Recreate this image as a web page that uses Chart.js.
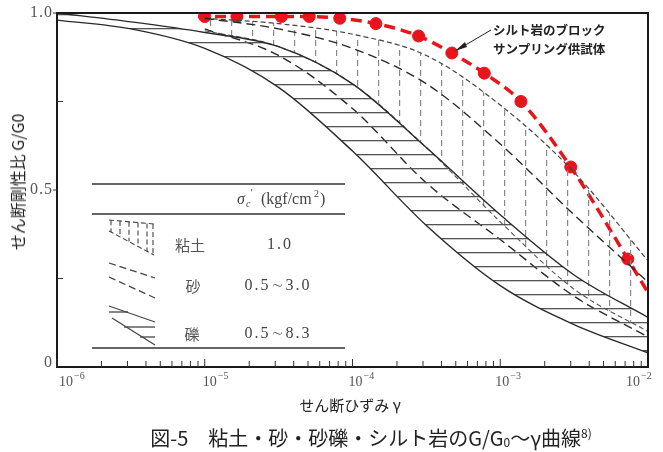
<!DOCTYPE html>
<html lang="ja">
<head>
<meta charset="UTF-8">
<title>G/G0 - γ curves</title>
<script src="https://cdn.jsdelivr.net/npm/chart.js"></script>
<style>
  body { margin: 0; background: #fff; font-family: "Noto Sans CJK JP", sans-serif; color: #222; }
  .wrap { position: relative; width: 663px; height: 452px; }
  #chart { position: absolute; left: 0; top: 0; }
  .ytitle { position: absolute; left: 17px; top: 182px; transform: translate(-50%, -50%) rotate(-90deg);
            white-space: nowrap; font-size: 16px; }
  .xtitle { position: absolute; left: 350px; top: 404px; transform: translate(-50%, -50%);
            white-space: nowrap; font-size: 15px; }
  .caption { position: absolute; left: 371px; top: 437px; transform: translate(-50%, -50%);
             white-space: nowrap; font-size: 20px; }
  .caption sub { font-size: 12px; vertical-align: -1px; }
  .caption sup { font-size: 12px; vertical-align: 8px; }
  .note { position: absolute; left: 493px; top: 20px; font-size: 12.5px; font-weight: bold; line-height: 19px; white-space: nowrap; }
</style>
</head>
<body>
<div class="wrap">
  <canvas id="chart" width="663" height="452"></canvas>
  <div class="ytitle">せん断剛性比 G/G0</div>
  <div class="xtitle">せん断ひずみ γ</div>
  <div class="note">シルト岩のブロック<br>サンプリング供試体</div>
  <div class="caption">図-5　粘土・砂・砂礫・シルト岩のG/G<sub>0</sub>～γ曲線<sup>8)</sup></div>
</div>
<script>
// strain values (x) at half-decades
const strainFull = [1e-6, 3.16e-6, 1e-5, 3.16e-5, 1e-4, 3.16e-4, 1e-3, 3.16e-3, 1e-2];
const strainFrom1e5 = [1e-5, 3.16e-5, 1e-4, 3.16e-4, 1e-3, 3.16e-3, 1e-2];

// gravel band (solid lines, horizontal hatch)
const gravelLower = [0.98, 0.955, 0.90, 0.79, 0.61, 0.40, 0.23, 0.12, 0.04];
const gravelUpper = [1.0, 0.975, 0.945, 0.905, 0.80, 0.62, 0.43, 0.26, 0.14];
// sand band (long dashes)
const sandLower = [0.955, 0.88, 0.73, 0.52, 0.36, 0.20, 0.085];
const sandUpper = [0.985, 0.955, 0.90, 0.80, 0.63, 0.43, 0.24];
// clay band (short dashes, vertical hatch)
const clayLower = [0.95, 0.905, 0.80, 0.62, 0.41, 0.22, 0.10];
const clayUpper = [0.985, 0.97, 0.94, 0.88, 0.74, 0.55, 0.30];

// siltstone block samples (red)
const rockStrain = [1e-5, 1.65e-5, 3.3e-5, 5.1e-5, 8.2e-5, 1.44e-4, 2.8e-4, 4.7e-4, 7.8e-4, 1.38e-3, 3.0e-3, 7.3e-3];
const rockRatio = [0.99, 0.99, 0.99, 0.99, 0.985, 0.97, 0.935, 0.887, 0.83, 0.75, 0.565, 0.305];
// where the red dashed line starts and ends beyond the samples
const rockLineStrain = [9e-6].concat(rockStrain, [1e-2]);
const rockLineRatio = [0.99].concat(rockRatio, [0.21]);

const xTickExps = ['−6', '−5', '−4', '−3', '−2'];
const yTickValues = [0, 0.5, 1.0];
const yTickLabels = ['0', '0.5', '1.0'];

function pts(xs, ys) { return xs.map((v, i) => ({ x: v, y: ys[i] })); }

const canvas = document.getElementById('chart');
const ctx0 = canvas.getContext('2d');

function makePattern(w, h, draw) {
    const c = document.createElement('canvas');
    c.width = w; c.height = h;
    draw(c.getContext('2d'));
    return ctx0.createPattern(c, 'repeat');
}
const horizHatch = makePattern(8, 14, g => { g.fillStyle = '#555'; g.fillRect(0, 0, 8, 1.3); });
const vertHatch = makePattern(21, 10, g => { g.fillStyle = '#888'; g.fillRect(0, 0, 1.2, 6); });

const black = '#2a2a2a';
const red = '#e8141c';

function curve(label, data, dash, extra) {
    return Object.assign({
        label: label,
        data: data,
        borderColor: black,
        borderWidth: 1.4,
        borderDash: dash,
        pointRadius: 0,
        cubicInterpolationMode: 'monotone',
        fill: false
    }, extra || {});
}

// decorations: frame, ticks, tick labels, legend table, arrow
const decor = {
    id: 'decor',
    afterDatasetsDraw(chart) {
        const { ctx, chartArea: a, scales: { x, y } } = chart;
        ctx.save();
        const seg = (x1, y1, x2, y2) => { ctx.beginPath(); ctx.moveTo(x1, y1); ctx.lineTo(x2, y2); ctx.stroke(); };

        // frame
        ctx.strokeStyle = '#1a1a1a';
        ctx.lineWidth = 2;
        ctx.strokeRect(a.left, a.top, a.width, a.height);

        // x ticks (inward)
        ctx.lineWidth = 1;
        ctx.strokeStyle = '#333';
        for (let e = -6; e <= -3; e++) {
            for (let m = 1; m <= 9; m++) {
                const px = x.getPixelForValue(m * Math.pow(10, e));
                seg(px, a.bottom, px, a.bottom - (m === 1 ? 8 : 6));
            }
        }
        // y ticks
        [0.25, 0.75].forEach(v => { const py = y.getPixelForValue(v); seg(a.left, py, a.left + 6, py); });
        [0.5, 1.0].forEach(v => { const py = y.getPixelForValue(v); seg(a.left - 4, py, a.left, py); });

        // tick labels
        ctx.fillStyle = '#555';
        ctx.font = '16px "Liberation Serif", serif';
        ctx.letterSpacing = '1px';
        ctx.textAlign = 'right';
        ctx.textBaseline = 'middle';
        yTickValues.forEach((v, i) => {
            const py = y.getPixelForValue(v);
            ctx.fillText(yTickLabels[i], a.left - 4, py + (v === 0 ? -4 : 0));
        });
        ctx.letterSpacing = '0px';
        ctx.textBaseline = 'alphabetic';
        ctx.textAlign = 'left';
        const labelShift = [2, -2, -4, -5, -22];
        xTickExps.forEach((ex, i) => {
            const px = x.getPixelForValue(Math.pow(10, -6 + i)) + labelShift[i];
            ctx.font = '14px "Liberation Serif", serif';
            ctx.fillText('10', px, a.bottom + 19);
            ctx.font = '10px "Liberation Serif", serif';
            ctx.fillText(ex, px + 15, a.bottom + 12);
        });

        // legend table
        ctx.strokeStyle = '#333';
        ctx.lineWidth = 1.4;
        seg(92, 184, 345, 184);
        seg(92, 214, 345, 214);
        seg(92, 348, 345, 348);

        ctx.fillStyle = '#444';
        ctx.textAlign = 'left';
        ctx.textBaseline = 'middle';
        ctx.font = 'italic 16px "Liberation Serif", serif';
        ctx.fillText('σ', 237, 200);
        ctx.font = 'italic 10px "Liberation Serif", serif';
        ctx.fillText('c', 246, 204);
        ctx.fillText('′', 250, 193);
        ctx.font = '16px "Liberation Serif", serif';
        ctx.fillText('(kgf/cm', 261, 200);
        ctx.font = '10px "Liberation Serif", serif';
        ctx.fillText('2', 314, 194);
        ctx.font = '16px "Liberation Serif", serif';
        ctx.fillText(')', 320, 200);

        ctx.textAlign = 'center';
        ctx.font = '16px "Liberation Serif", serif';
        ctx.letterSpacing = '2px';
        ctx.fillText('1.0', 280, 245);
        ctx.fillText('0.5∼3.0', 278, 286);
        ctx.fillText('0.5∼8.3', 278, 334);
        ctx.letterSpacing = '0px';
        ctx.font = '15px "Noto Sans CJK JP", sans-serif';
        ctx.fillStyle = '#555';
        ctx.fillText('粘土', 190, 245);
        ctx.fillText('砂', 193, 286);
        ctx.fillText('礫', 192, 334);

        // clay symbol
        ctx.strokeStyle = '#444';
        ctx.lineWidth = 1.1;
        ctx.setLineDash([5, 3]);
        seg(109, 220, 154, 224);
        seg(109, 231, 154, 255);
        [111, 120, 129, 138, 147, 153].forEach(sx => {
            seg(sx, 220 + (sx - 109) * 0.09, sx, 231 + (sx - 109) * 0.53);
        });
        // sand symbol
        ctx.setLineDash([7, 4]);
        ctx.lineWidth = 1.3;
        seg(109, 263, 155, 278);
        seg(109, 277, 155, 298);
        // gravel symbol
        ctx.setLineDash([]);
        seg(109, 306, 155, 322);
        seg(112, 318, 155, 345);
        seg(109, 312, 128, 312);
        seg(124, 327, 155, 327);
        seg(140, 337, 155, 337);

        // arrow to the sample curve
        ctx.strokeStyle = '#222';
        ctx.lineWidth = 1;
        seg(491, 30, 457, 50);
        ctx.beginPath();
        ctx.moveTo(455, 51);
        ctx.lineTo(465, 42);
        ctx.lineTo(467, 47);
        ctx.closePath();
        ctx.fillStyle = '#222';
        ctx.fill();
        ctx.restore();
    }
};

new Chart(canvas, {
    type: 'line',
    data: {
        datasets: [
            curve('礫 下限', pts(strainFull, gravelLower), []),
            curve('礫 上限', pts(strainFull, gravelUpper), [], { fill: { target: 0 }, backgroundColor: horizHatch }),
            curve('砂 下限', pts(strainFrom1e5, sandLower), [9, 5]),
            curve('砂 上限', pts(strainFrom1e5, sandUpper), [9, 5]),
            curve('粘土 下限', pts(strainFrom1e5, clayLower), [5, 3], { borderColor: '#555', borderWidth: 1.1 }),
            curve('粘土 上限', pts(strainFrom1e5, clayUpper), [5, 3], { borderColor: '#444', borderWidth: 1.2,
                fill: { target: 4 }, backgroundColor: vertHatch }),
            curve('シルト岩 曲線', pts(rockLineStrain, rockLineRatio), [11, 6], { borderColor: red, borderWidth: 3.5 }),
            {
                label: 'シルト岩のブロックサンプリング供試体',
                data: pts(rockStrain, rockRatio),
                showLine: false,
                pointRadius: 6,
                pointBackgroundColor: red,
                pointBorderColor: red
            }
        ]
    },
    options: {
        responsive: false,
        animation: false,
        layout: { padding: { left: 57, top: 13, right: 15, bottom: 85 } },
        scales: {
            x: { type: 'logarithmic', min: 1e-6, max: 1e-2, display: false },
            y: { type: 'linear', min: 0, max: 1, display: false }
        },
        plugins: {
            legend: { display: false },
            tooltip: { enabled: false },
            filler: { propagate: false }
        }
    },
    plugins: [decor]
});
</script>
</body>
</html>
